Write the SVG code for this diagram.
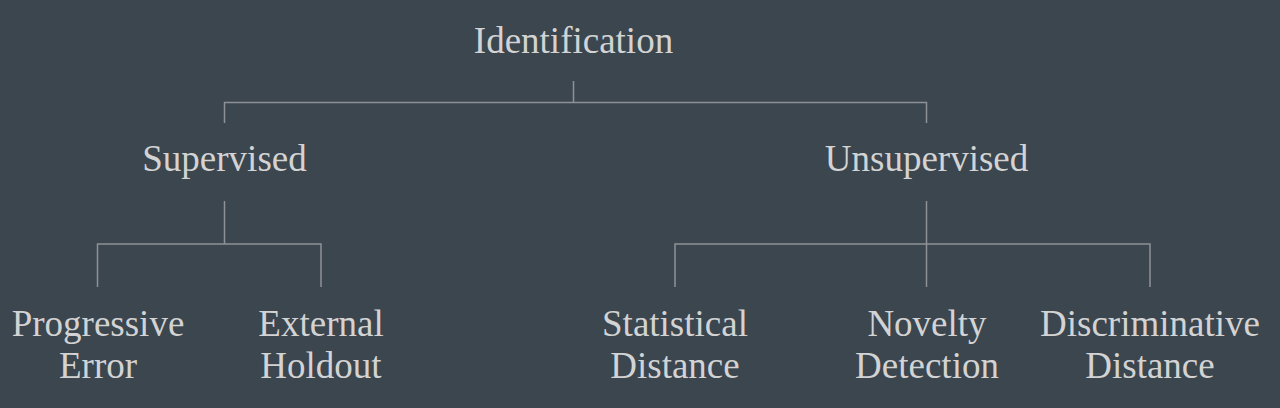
<svg xmlns="http://www.w3.org/2000/svg" width="1280" height="408" viewBox="0 0 1280 408">
<style>
.lbl{font-family:"Liberation Serif","DejaVu Serif",serif;font-size:37px;fill:#d3d3d3;text-anchor:middle}
.edge{stroke:#8e9296;stroke-width:1.5;fill:none}
</style>
<rect width="1280" height="408" fill="#3b464f"/>
<g id="connectors">
<path class="edge" d="M573.5 81V102.5M224.5 123V102.5H926.5V123"/>
<path class="edge" d="M224.5 201V244H97.5V287M224.5 244H321V287"/>
<path class="edge" d="M926.5 201V287M675 287V244H1150V287"/>
</g>
<g id="identification"><text class="lbl" x="573.5" y="53">Identification</text></g>
<g id="supervised"><text class="lbl" x="224.5" y="171">Supervised</text></g>
<g id="unsupervised"><text class="lbl" x="926.5" y="171">Unsupervised</text></g>
<g id="progressive-error"><text class="lbl" x="98" y="336">Progressive</text><text class="lbl" x="98" y="378">Error</text></g>
<g id="external-holdout"><text class="lbl" x="321" y="336">External</text><text class="lbl" x="321" y="378">Holdout</text></g>
<g id="statistical-distance"><text class="lbl" x="675" y="336">Statistical</text><text class="lbl" x="675" y="378">Distance</text></g>
<g id="novelty-detection"><text class="lbl" x="927" y="336">Novelty</text><text class="lbl" x="927" y="378">Detection</text></g>
<g id="discriminative-distance"><text class="lbl" x="1150" y="336">Discriminative</text><text class="lbl" x="1150" y="378">Distance</text></g>
</svg>
